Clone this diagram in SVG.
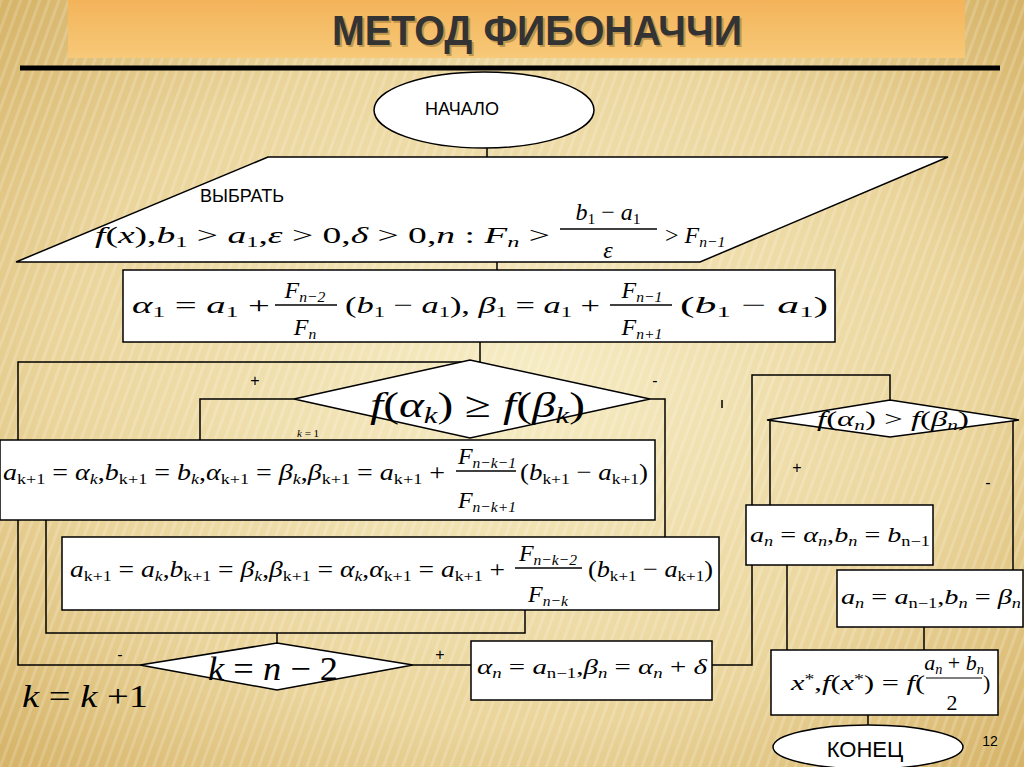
<svg xmlns="http://www.w3.org/2000/svg" width="1024" height="767" viewBox="0 0 1024 767">
<defs>
<radialGradient id="bg" cx="0.5" cy="0.5" r="0.75">
<stop offset="0" stop-color="#f6ecc4"/><stop offset="0.6" stop-color="#ead49a"/><stop offset="1" stop-color="#d2ad5e"/>
</radialGradient>
<linearGradient id="band" x1="0" y1="0" x2="0" y2="1">
<stop offset="0" stop-color="#f3b35a"/><stop offset="1" stop-color="#f7c978"/>
</linearGradient>
<pattern id="str" width="9" height="9" patternUnits="userSpaceOnUse" patternTransform="rotate(20)">
<rect width="3" height="9" fill="#ffffff" opacity="0.18"/>
</pattern>
<style>
.b{fill:#fff;stroke:#000;stroke-width:1.5}
.c{fill:none;stroke:#000;stroke-width:1.5}
.m{font-family:"Liberation Serif",serif;font-style:italic;fill:#000}
.u{font-style:normal}
.s{font-size:65%;baseline-shift:-25%}
.l{font-family:"Liberation Sans",sans-serif;fill:#000}
</style>
</defs>
<rect width="1024" height="767" fill="url(#bg)"/>
<rect width="1024" height="767" fill="url(#str)"/>
<rect x="68" y="0" width="897" height="58" fill="url(#band)"/>
<text x="539" y="47" text-anchor="middle" font-family="Liberation Sans,sans-serif" font-weight="bold" font-size="42" fill="#9a7a3a" opacity="0.6" textLength="410" lengthAdjust="spacingAndGlyphs">МЕТОД ФИБОНАЧЧИ</text>
<text x="537" y="45" text-anchor="middle" font-family="Liberation Sans,sans-serif" font-weight="bold" font-size="42" fill="#333" textLength="410" lengthAdjust="spacingAndGlyphs">МЕТОД ФИБОНАЧЧИ</text>
<line x1="20" y1="68" x2="1000" y2="68" stroke="#000" stroke-width="5"/>

<g id="connectors" class="c">
<polyline points="487,148 487,157"/>
<polyline points="497,262 497,270"/>
<polyline points="480,342 480,362 18,362 18,665 140,665"/>
<polyline points="294,399 200,399 200,440"/>
<polyline points="650,399 665,399 665,537"/>
<polyline points="46,520 46,633 525,633 525,610"/>
<polyline points="277,633 277,643"/>
<polyline points="413,665 471,665"/>
<polyline points="712,665 752,665 752,375 890,375 890,400"/>
<polyline points="770,420 770,505"/>
<polyline points="1013,420 1013,570"/>
<polyline points="787,565 787,658"/>
<polyline points="924,627 924,650"/>
<polyline points="868,715 868,735"/>
<line x1="722" y1="400" x2="722" y2="408"/>
</g>

<g id="start"><ellipse class="b" cx="484" cy="110" rx="110" ry="38"/>
<text class="l" x="462" y="115" font-size="18" text-anchor="middle">НАЧАЛО</text></g>

<g id="input">
<polygon class="b" points="268,157 948,157 700,262 16,262"/>
<text class="l" x="200" y="202" font-size="18">ВЫБРАТЬ</text>
<text class="m" x="95" y="243" font-size="24" textLength="455" lengthAdjust="spacingAndGlyphs">f<tspan class="u">(</tspan>x<tspan class="u">),</tspan>b<tspan class="u s">1</tspan> <tspan class="u">&gt;</tspan> a<tspan class="u s">1</tspan><tspan class="u">,</tspan>ε <tspan class="u">&gt; 0,</tspan>δ <tspan class="u">&gt; 0,</tspan>n <tspan class="u">:</tspan> F<tspan class="s">n</tspan> <tspan class="u">&gt;</tspan></text>
<text class="m" x="608" y="220" font-size="24" text-anchor="middle">b<tspan class="u s">1</tspan><tspan class="u"> − </tspan>a<tspan class="u s">1</tspan></text>
<line x1="560" y1="229" x2="657" y2="229" stroke="#000" stroke-width="1.5"/>
<text class="m" x="608" y="258" font-size="24" text-anchor="middle">ε</text>
<text class="m" x="665" y="243" font-size="24"><tspan class="u">&gt;</tspan> F<tspan class="s">n−1</tspan></text>
</g>

<g id="init">
<rect class="b" x="123" y="270" width="712" height="72"/>
<text class="m" x="132" y="313" font-size="24" textLength="138" lengthAdjust="spacingAndGlyphs">α<tspan class="u s">1</tspan><tspan class="u"> = </tspan>a<tspan class="u s">1</tspan><tspan class="u"> +</tspan></text>
<text class="m" x="305" y="298" font-size="24" text-anchor="middle">F<tspan class="s">n−2</tspan></text>
<line x1="275" y1="305" x2="337" y2="305" stroke="#000" stroke-width="1.5"/>
<text class="m" x="305" y="335" font-size="24" text-anchor="middle">F<tspan class="s">n</tspan></text>
<text class="m" x="345" y="313" font-size="24" textLength="255" lengthAdjust="spacingAndGlyphs"><tspan class="u">(</tspan>b<tspan class="u s">1</tspan><tspan class="u"> − </tspan>a<tspan class="u s">1</tspan><tspan class="u">),    </tspan>β<tspan class="u s">1</tspan><tspan class="u"> = </tspan>a<tspan class="u s">1</tspan><tspan class="u"> +</tspan></text>
<text class="m" x="642" y="298" font-size="24" text-anchor="middle">F<tspan class="s">n−1</tspan></text>
<line x1="610" y1="305" x2="672" y2="305" stroke="#000" stroke-width="1.5"/>
<text class="m" x="642" y="335" font-size="24" text-anchor="middle">F<tspan class="s">n+1</tspan></text>
<text class="m" x="680" y="313" font-size="24" textLength="148" lengthAdjust="spacingAndGlyphs"><tspan class="u">(</tspan>b<tspan class="u s">1</tspan><tspan class="u"> − </tspan>a<tspan class="u s">1</tspan><tspan class="u">)</tspan></text>
</g>

<g id="cond1">
<polygon class="b" points="294,399 470,360 650,399 470,438"/>
<text class="m" x="370" y="417" font-size="36" textLength="215" lengthAdjust="spacingAndGlyphs">f<tspan class="u">(</tspan>α<tspan class="s">k</tspan><tspan class="u">) ≥ </tspan>f<tspan class="u">(</tspan>β<tspan class="s">k</tspan><tspan class="u">)</tspan></text>
<text class="l" x="255" y="386" font-size="16" text-anchor="middle">+</text>
<text class="l" x="655" y="386" font-size="16" text-anchor="middle">-</text>
<text class="m" x="297" y="437" font-size="11">k <tspan class="u">= 1</tspan></text>
</g>

<g id="plus-branch">
<rect class="b" x="0" y="440" width="655" height="80"/>
<text class="m" x="3" y="480" font-size="24" textLength="442" lengthAdjust="spacingAndGlyphs">a<tspan class="u s">k+1</tspan><tspan class="u"> = </tspan>α<tspan class="s">k</tspan><tspan class="u">,</tspan>b<tspan class="u s">k+1</tspan><tspan class="u"> = </tspan>b<tspan class="s">k</tspan><tspan class="u">,</tspan>α<tspan class="u s">k+1</tspan><tspan class="u"> = </tspan>β<tspan class="s">k</tspan><tspan class="u">,</tspan>β<tspan class="u s">k+1</tspan><tspan class="u"> = </tspan>a<tspan class="u s">k+1</tspan><tspan class="u"> +</tspan></text>
<text class="m" x="487" y="464" font-size="24" text-anchor="middle">F<tspan class="s">n−k−1</tspan></text>
<line x1="456" y1="471" x2="516" y2="471" stroke="#000" stroke-width="1.5"/>
<text class="m" x="487" y="508" font-size="24" text-anchor="middle">F<tspan class="s">n−k+1</tspan></text>
<text class="m" x="520" y="480" font-size="24" textLength="128" lengthAdjust="spacingAndGlyphs"><tspan class="u">(</tspan>b<tspan class="u s">k+1</tspan><tspan class="u"> − </tspan>a<tspan class="u s">k+1</tspan><tspan class="u">)</tspan></text>
</g>

<g id="minus-branch">
<rect class="b" x="62" y="537" width="657" height="73"/>
<text class="m" x="70" y="577" font-size="24" textLength="435" lengthAdjust="spacingAndGlyphs">a<tspan class="u s">k+1</tspan><tspan class="u"> = </tspan>a<tspan class="s">k</tspan><tspan class="u">,</tspan>b<tspan class="u s">k+1</tspan><tspan class="u"> = </tspan>β<tspan class="s">k</tspan><tspan class="u">,</tspan>β<tspan class="u s">k+1</tspan><tspan class="u"> = </tspan>α<tspan class="s">k</tspan><tspan class="u">,</tspan>α<tspan class="u s">k+1</tspan><tspan class="u"> = </tspan>a<tspan class="u s">k+1</tspan><tspan class="u"> +</tspan></text>
<text class="m" x="548" y="561" font-size="24" text-anchor="middle">F<tspan class="s">n−k−2</tspan></text>
<line x1="515" y1="568" x2="582" y2="568" stroke="#000" stroke-width="1.5"/>
<text class="m" x="548" y="602" font-size="24" text-anchor="middle">F<tspan class="s">n−k</tspan></text>
<text class="m" x="588" y="577" font-size="24" textLength="125" lengthAdjust="spacingAndGlyphs"><tspan class="u">(</tspan>b<tspan class="u s">k+1</tspan><tspan class="u"> − </tspan>a<tspan class="u s">k+1</tspan><tspan class="u">)</tspan></text>
</g>

<g id="cond2">
<polygon class="b" points="140,665 277,643 413,665 277,690"/>
<text class="m" x="208" y="680" font-size="34" textLength="130" lengthAdjust="spacingAndGlyphs">k <tspan class="u">=</tspan> n <tspan class="u">− 2</tspan></text>
<text class="l" x="120" y="660" font-size="16" text-anchor="middle">-</text>
<text class="l" x="440" y="660" font-size="16" text-anchor="middle">+</text>
<text class="m" x="22" y="707" font-size="32" textLength="126" lengthAdjust="spacingAndGlyphs">k <tspan class="u">=</tspan> k <tspan class="u">+1</tspan></text>
</g>

<g id="final-points">
<rect class="b" x="471" y="641" width="241" height="59"/>
<text class="m" x="477" y="674" font-size="22" textLength="230" lengthAdjust="spacingAndGlyphs">α<tspan class="s">n</tspan><tspan class="u"> = </tspan>a<tspan class="u s">n−1</tspan><tspan class="u">,</tspan>β<tspan class="s">n</tspan><tspan class="u"> = </tspan>α<tspan class="s">n</tspan><tspan class="u"> + </tspan>δ</text>
</g>

<g id="cond3">
<polygon class="b" points="767,420 890,400 1019,420 890,437"/>
<text class="m" x="817" y="426" font-size="22" textLength="152" lengthAdjust="spacingAndGlyphs">f<tspan class="u">(</tspan>α<tspan class="s">n</tspan><tspan class="u">) &gt; </tspan>f<tspan class="u">(</tspan>β<tspan class="s">n</tspan><tspan class="u">)</tspan></text>
<text class="l" x="797" y="473" font-size="16" text-anchor="middle">+</text>
<text class="l" x="988" y="488" font-size="16" text-anchor="middle">-</text>
</g>

<g id="box-plus">
<rect class="b" x="746" y="505" width="187" height="60"/>
<text class="m" x="750" y="542" font-size="22" textLength="180" lengthAdjust="spacingAndGlyphs">a<tspan class="s">n</tspan><tspan class="u"> = </tspan>α<tspan class="s">n</tspan><tspan class="u">,</tspan>b<tspan class="s">n</tspan><tspan class="u"> = </tspan>b<tspan class="u s">n−1</tspan></text>
</g>

<g id="box-minus">
<rect class="b" x="837" y="570" width="186" height="57"/>
<text class="m" x="841" y="604" font-size="22" textLength="180" lengthAdjust="spacingAndGlyphs">a<tspan class="s">n</tspan><tspan class="u"> = </tspan>a<tspan class="u s">n−1</tspan><tspan class="u">,</tspan>b<tspan class="s">n</tspan><tspan class="u"> = </tspan>β<tspan class="s">n</tspan></text>
</g>

<g id="result">
<rect class="b" x="771" y="650" width="227" height="65"/>
<text class="m" x="791" y="690" font-size="22" textLength="134" lengthAdjust="spacingAndGlyphs">x<tspan class="u" font-size="65%" baseline-shift="40%">*</tspan><tspan class="u">,</tspan>f<tspan class="u">(</tspan>x<tspan class="u" font-size="65%" baseline-shift="40%">*</tspan><tspan class="u">) = </tspan>f<tspan class="u">(</tspan></text>
<text class="m" x="954" y="670" font-size="22" text-anchor="middle">a<tspan class="s">n</tspan><tspan class="u"> + </tspan>b<tspan class="s">n</tspan></text>
<line x1="926" y1="678" x2="982" y2="678" stroke="#000" stroke-width="1.2"/>
<text class="m u" x="952" y="710" font-size="22" text-anchor="middle">2</text>
<text class="m u" x="983" y="690" font-size="22">)</text>
</g>

<g id="end"><ellipse class="b" cx="868" cy="747" rx="95" ry="22"/>
<text class="l" x="865" y="757" font-size="22" text-anchor="middle">КОНЕЦ</text></g>
<text class="l" x="990" y="746" font-size="14" fill="#e8a64c" text-anchor="middle">12</text>
</svg>
